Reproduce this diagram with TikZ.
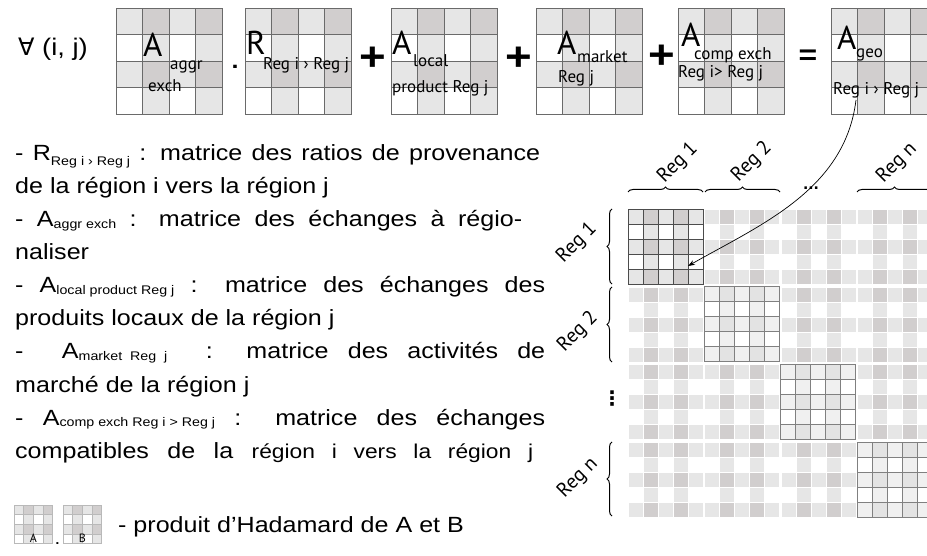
\documentclass[tikz,border=0pt]{standalone}
\usepackage{fontspec}
\setmainfont{Liberation Sans}[FakeStretch=1.14]
\newfontfamily\labfont{PT Sans}
\newfontfamily\symfont{DejaVu Sans}
\usetikzlibrary{arrows.meta,decorations.pathreplacing,positioning}

\definecolor{tone0}{HTML}{FFFFFF}
\definecolor{tone1}{HTML}{E6E6E6}
\definecolor{tone2}{HTML}{D1CECE}
\definecolor{pale0}{HTML}{FFFFFF}
\definecolor{pale1}{HTML}{F0F0F0}
\definecolor{pale2}{HTML}{E3E3E3}
\definecolor{gridC}{HTML}{6A6A6A}

% n x n cells: x, y (top left), n, cell size, colour prefix, line options
\newcommand{\cellgrid}[6]{%
  \foreach \ri in {1,...,#3}{%
    \foreach \ci in {1,...,#3}{%
      \pgfmathtruncatemacro{\shd}{mod(\ri,2)+1-mod(\ci,2)}%
      \path[fill=#5\shd, #6] ({#1+(\ci-1)*#4},{#2+(\ri-1)*#4}) rectangle ++(#4,#4);
    }%
  }%
}
\newcommand{\subtext}[2]{\raisebox{#1}{\fontsize{12.5}{13}\selectfont #2}}

\begin{document}
\begin{tikzpicture}[x=1pt, y=-1pt,
    body/.style={font=\fontsize{22}{33}\selectfont, anchor=base west, inner sep=0pt},
    biglab/.style={font=\labfont\fontsize{33}{33}\selectfont, anchor=base west, inner sep=0pt},
    sublab/.style={font=\labfont\fontsize{17}{17}\selectfont, anchor=base west, inner sep=0pt},
    reglab/.style={font=\labfont\fontsize{20}{20}\selectfont, rotate=45, inner sep=0pt},
    matbox/.style={draw=gridC, line width=0.9pt, anchor=north west, minimum size=106.4pt, inner sep=0pt},
    oper/.style={font=\bfseries\fontsize{40}{40}\selectfont, inner sep=0pt},
    brc/.style={decorate, decoration={brace, amplitude=5pt}, line width=1pt},
    link/.style={-{Stealth[length=7pt,width=5pt]}, line width=0.7pt}
    ]
    \useasboundingbox (0,0) rectangle (927,556);

    % Equation
    \node[body, font=\fontsize{24}{24}\selectfont] (forall) at (18,56) {{\symfont ∀} (i, j)};
    \foreach \mx/\mname in {116/aggr, 245/ratio, 391/localprod, 536/market, 678/compexch, 831/geo}{
        \cellgrid{\mx}{8}{4}{26.6}{tone}{draw=gridC, line width=0.8pt}
        \node[matbox] (\mname) at (\mx,8) {};
    }
    \node[biglab] (aggrA) at (143,57) {A};
    \node[sublab] at (170,70) {aggr};
    \node[sublab] at (148,92) {exch};
    \node[font=\bfseries\fontsize{22}{22}\selectfont, anchor=base] (dot) at (235,69) {.};
    \node[biglab] (ratioR) at (246,55) {R};
    \node[sublab] at (263,70) {Reg i › Reg j};
    \node[oper] (plus1) at (373,59) {+};
    \node[biglab] (localA) at (392,55) {A};
    \node[sublab] at (413,67) {local};
    \node[sublab] at (392,93) {product Reg j};
    \node[oper] (plus2) at (519,59) {+};
    \node[biglab] (marketA) at (557,55) {A};
    \node[sublab] at (577,63) {market};
    \node[sublab] at (558,83) {Reg j};
    \node[oper] (plus3) at (662,57) {+};
    \node[biglab] (compA) at (681,47) {A};
    \node[sublab] at (694,60) {comp exch};
    \node[sublab] at (678,78) {Reg i> Reg j};
    \node[oper, font=\bfseries\fontsize{28}{28}\selectfont] (equal) at (808,57) {=};
    \node[biglab] (geoA) at (837,50) {A};
    \node[sublab] at (856,58) {geo};
    \node[sublab] at (833,95) {Reg i › Reg j};

    % Legend
    \node[body] (l1) at (15,161) {\makebox[525pt][s]{- R\subtext{-5pt}{Reg i › Reg j} : matrice des ratios de provenance}};
    \node[body] (l2) at (15,194) {de la région i vers la région j};
    \node[body] (l3) at (15,227) {\makebox[507pt][s]{- A\subtext{-1.5pt}{aggr exch} : matrice des échanges à régio-}};
    \node[body] (l4) at (15,260) {naliser};
    \node[body] (l5) at (15,293) {\makebox[530pt][s]{- A\subtext{-1.5pt}{local product Reg j} : matrice des échanges des}};
    \node[body] (l6) at (15,326) {produits locaux de la région j};
    \node[body] (l7) at (15,359) {\makebox[530pt][s]{- \ A\subtext{-1.5pt}{market\ \ Reg\ \ j} \ : matrice des activités de}};
    \node[body] (l8) at (15,392) {marché de la région j};
    \node[body] (l9) at (15,425) {\makebox[530pt][s]{- A\subtext{-1.5pt}{comp exch Reg i > Reg j} : matrice des échanges}};
    \node[body] (l10) at (15,458) {\makebox[518pt][s]{compatibles de la {\fontsize{20}{24}\selectfont région i vers la région j}}};

    % Hadamard
    \cellgrid{14}{505}{4}{9.6}{tone}{draw=gray!55, line width=0.4pt}
    \cellgrid{63}{505}{4}{9.6}{tone}{draw=gray!55, line width=0.4pt}
    \node[matbox, draw=gray!55, line width=0.4pt, minimum size=38.4pt] (hadA) at (14,505) {};
    \node[matbox, draw=gray!55, line width=0.4pt, minimum size=38.4pt] (hadB) at (63,505) {};
    \node[font=\labfont\fontsize{12}{12}\selectfont] at (hadA.center) [yshift=-14pt] {A};
    \node[font=\labfont\fontsize{12}{12}\selectfont] at (hadB.center) [yshift=-14pt] {B};
    \node[anchor=base, font=\fontsize{18}{18}\selectfont] (hdot) at (57.5,544) {.};
    \node[body] (hadtxt) at (118,532) {- produit d’Hadamard de A et B};

    % Block matrix
    \foreach \bi in {1,...,4}{
        \foreach \bj in {1,...,4}{
            \pgfmathsetmacro\bx{628+(\bj-1)*76.3}
            \pgfmathsetmacro\by{209+(\bi-1)*77.7}
            \ifnum\bi=\bj
                \ifnum\bi=1
                    \cellgrid{\bx}{\by}{5}{15}{tone}{draw=black!70, line width=0.6pt}
                \else
                    \cellgrid{\bx}{\by}{5}{15}{pale}{draw=gray, line width=0.6pt}
                \fi
            \else
                \cellgrid{\bx}{\by}{5}{15}{tone}{draw=white, line width=0.2pt}
            \fi
        }
    }

    % Braces
    \draw[brc] (628,192) -- (703,192);
    \draw[brc] (705,192) -- (780,192);
    \draw[brc] (857,192) -- (932,192);
    \draw[brc] (612,284) -- (612,209);
    \draw[brc] (612,362) -- (612,287);
    \draw[brc] (612,516) -- (612,442);
    \node[reglab] (col1) at (678,163) {Reg 1};
    \node[reglab] (col2) at (752,162) {Reg 2};
    \node[reglab] (coln) at (897,163) {Reg n};
    \node[font=\symfont\bfseries\fontsize{14}{14}\selectfont] (hdots) at (811,188) {...};
    \node[reglab] (row1) at (577,243) {Reg 1};
    \node[reglab] (row2) at (578,332) {Reg 2};
    \node[reglab] (rown) at (578,478) {Reg n};
    \node[font=\symfont\bfseries\fontsize{20}{20}\selectfont] (vdots) at (612,399) {⋮};

    % Arrow
    \coordinate (geosrc) at (856,100);
    \coordinate (target) at (688,266);
    \draw[link] (geosrc) .. controls (845,190) and (760,225) .. (target);
\end{tikzpicture}
\end{document}
